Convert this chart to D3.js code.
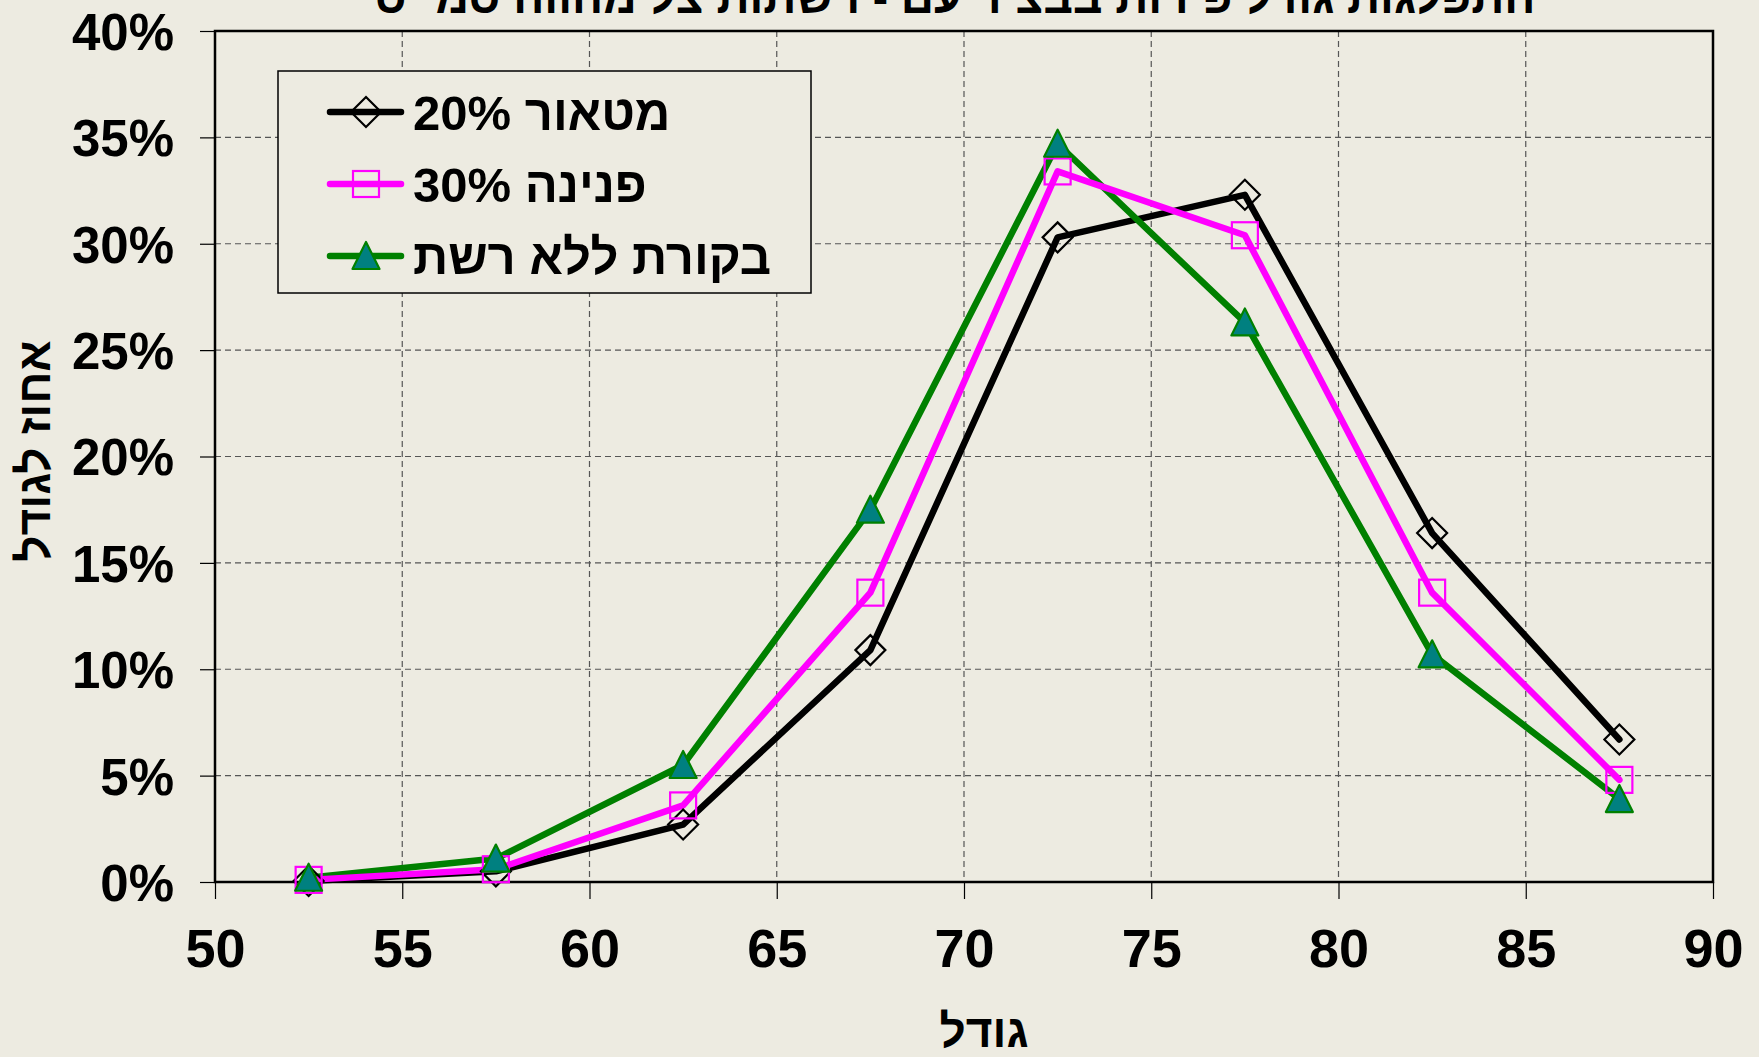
<!DOCTYPE html>
<html>
<head>
<meta charset="utf-8">
<script src="https://cdn.jsdelivr.net/npm/d3@7"></script>
<style>
  html, body { margin: 0; padding: 0; background: #edebe1; }
  svg { display: block; }
  text { font-family: "Liberation Sans", Arial, "DejaVu Sans", sans-serif; font-weight: bold; fill: #000; }
</style>
</head>
<body>
<svg id="chart" width="1759" height="1057"></svg>
<script>
// fruit size classes (x) and share of fruit per class, in %
const sizes = [52.5, 57.5, 62.5, 67.5, 72.5, 77.5, 82.5, 87.5];
const meteor = [0.05, 0.5, 2.7, 10.9, 30.3, 32.3, 16.4, 6.7];
const pnina = [0.1, 0.6, 3.6, 13.6, 33.4, 30.4, 13.6, 4.8];
const control = [0.2, 1.1, 5.5, 17.5, 34.7, 26.3, 10.7, 3.9];
const seriesNames = ["20% מטאור", "30% פנינה", "בקורת ללא רשת"];
const xTicks = [50, 55, 60, 65, 70, 75, 80, 85, 90];
const yTicks = [0, 5, 10, 15, 20, 25, 30, 35, 40];

const svg = d3.select("#chart");
const margin = { top: 31, right: 46, bottom: 175, left: 215 };
const width = 1759 - margin.left - margin.right,
      height = 1057 - margin.top - margin.bottom;

const g = svg.append("g").attr("transform", `translate(${margin.left},${margin.top})`);

const x = d3.scaleLinear().domain([50, 90]).range([0, width]);
const y = d3.scaleLinear().domain([0, 40]).range([height, 0]);

// title (cut off at the top in the original)
svg.append("text")
  .attr("x", 955)
  .attr("y", 13)
  .attr("text-anchor", "middle")
  .attr("font-size", "46px")
  .attr("direction", "rtl")
  .text("התפלגות גודל פירות בבציר עם - רשתות צל מהווה סמ״ס");

// grid
g.append("g")
  .selectAll("line")
  .data(yTicks.slice(1, -1))
  .enter().append("line")
  .attr("x1", 0).attr("x2", width)
  .attr("y1", d => y(d)).attr("y2", d => y(d))
  .attr("stroke", "#555").attr("stroke-width", 1.2)
  .attr("stroke-dasharray", "6,4");

g.append("g")
  .selectAll("line")
  .data(xTicks.slice(1, -1))
  .enter().append("line")
  .attr("x1", d => x(d)).attr("x2", d => x(d))
  .attr("y1", 0).attr("y2", height)
  .attr("stroke", "#555").attr("stroke-width", 1.2)
  .attr("stroke-dasharray", "6,4");

// axes
const yAxis = g.append("g")
  .call(d3.axisLeft(y).tickValues(yTicks).tickSize(15).tickPadding(26).tickFormat(d => d + "%"));
yAxis.select(".domain").remove();
yAxis.selectAll("line").attr("stroke", "#000").attr("stroke-width", 1.2);
yAxis.selectAll("text")
  .attr("font-size", "51px")
  .attr("font-family", "\"Liberation Sans\", Arial, sans-serif")
  .attr("font-weight", "bold")
  .attr("dy", "0.36em");

const xAxis = g.append("g")
  .attr("transform", `translate(0,${height})`)
  .call(d3.axisBottom(x).tickValues(xTicks).tickSize(17).tickPadding(30));
xAxis.select(".domain").remove();
xAxis.selectAll("line").attr("stroke", "#000").attr("stroke-width", 1.2);
xAxis.selectAll("text")
  .attr("font-size", "54px")
  .attr("font-family", "\"Liberation Sans\", Arial, sans-serif")
  .attr("font-weight", "bold")
  .attr("dy", "0.71em");

// frame
g.append("rect")
  .attr("width", width).attr("height", height)
  .attr("fill", "none").attr("stroke", "#000").attr("stroke-width", 2.5);

// axis titles
svg.append("text")
  .attr("x", 984)
  .attr("y", 1047)
  .attr("text-anchor", "middle")
  .attr("font-size", "46px")
  .text("גודל");

svg.append("text")
  .attr("transform", "translate(50,451) rotate(-90)")
  .attr("text-anchor", "middle")
  .attr("font-size", "46px")
  .text("אחוז לגודל");

// series
const series = [
  { name: seriesNames[0], values: meteor, color: "#000000", marker: "diamond" },
  { name: seriesNames[1], values: pnina, color: "#ff00ff", marker: "square" },
  { name: seriesNames[2], values: control, color: "#008000", marker: "triangle" }
];

const line = d3.line()
  .x((d, i) => x(sizes[i]))
  .y(d => y(d));

// lines: black, green, magenta
[series[0], series[2], series[1]].forEach(s => {
  g.append("path")
    .datum(s.values)
    .attr("d", line)
    .attr("fill", "none")
    .attr("stroke", s.color)
    .attr("stroke-width", 6.5)
    .attr("stroke-linejoin", "round")
    .attr("stroke-linecap", "round");
});

function drawMarker(sel, type) {
  if (type === "diamond") {
    sel.append("path")
      .attr("d", "M0,-15L15,0L0,15L-15,0Z")
      .attr("fill", "none").attr("stroke", "#000").attr("stroke-width", 2.2);
  } else if (type === "square") {
    sel.append("rect")
      .attr("x", -13).attr("y", -13).attr("width", 26).attr("height", 26)
      .attr("fill", "none").attr("stroke", "#ff00ff").attr("stroke-width", 2.2);
  } else {
    sel.append("path")
      .attr("d", "M0,-14L13.5,13L-13.5,13Z")
      .attr("fill", "#008080").attr("stroke", "#008000").attr("stroke-width", 2.2)
      .attr("stroke-linejoin", "round");
  }
}

series.forEach(s => {
  g.append("g")
    .selectAll("g")
    .data(s.values)
    .enter().append("g")
    .attr("transform", (d, i) => `translate(${x(sizes[i])},${y(d)})`)
    .each(function () { drawMarker(d3.select(this), s.marker); });
});

// legend
const legend = svg.append("g");
legend.append("rect")
  .attr("x", 278).attr("y", 71)
  .attr("width", 533).attr("height", 222)
  .attr("fill", "#edebe1").attr("stroke", "#000").attr("stroke-width", 1.5);

const rowY = [112, 184, 256];
series.forEach((s, i) => {
  const row = legend.append("g").attr("transform", `translate(0,${rowY[i]})`);
  row.append("line")
    .attr("x1", 330).attr("x2", 401)
    .attr("stroke", s.color).attr("stroke-width", 6.5)
    .attr("stroke-linecap", "round");
  drawMarker(row.append("g").attr("transform", "translate(366,0)"), s.marker);
  row.append("text")
    .attr("x", 413)
    .attr("y", 0)
    .attr("dy", "0.36em")
    .attr("font-size", "49px")
    .text(s.name);
});
</script>
</body>
</html>
